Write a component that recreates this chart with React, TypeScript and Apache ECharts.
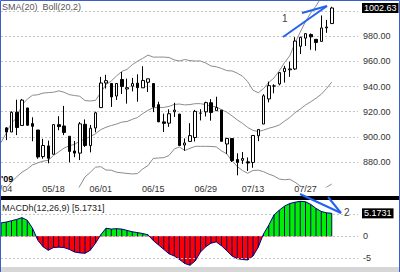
import React, { useEffect, useRef } from 'react';
import * as echarts from 'echarts';

// Trading days shown (S&P 500, 2009)
const dates = [
  '05/04','05/05','05/06','05/07','05/08','05/11','05/12','05/13','05/14','05/15','05/18','05/19','05/20','05/21','05/22','05/26','05/27','05/28','05/29',
  '06/01','06/02','06/03','06/04','06/05','06/08','06/09','06/10','06/11','06/12','06/15','06/16','06/17','06/18','06/19','06/22','06/23','06/24','06/25','06/26','06/29','06/30',
  '07/01','07/02','07/06','07/07','07/08','07/09','07/10','07/13','07/14','07/15','07/16','07/17','07/20','07/21','07/22','07/23','07/24','07/27','07/28','07/29','07/30','07/31',
  '08/03'
];
const rightPadding = ['', '', '', '', ''];
const labeledDates = ['05/04', '05/18', '06/01', '06/15', '06/29', '07/13', '07/27'];
const macdZeroTick = 0;
const macdLowerTick = -5;

// Candles from 05/05 to 08/03
const opens = [907.10,903.80,919.58,909.03,922.99,910.52,905.40,884.24,892.76,886.07,909.67,908.62,900.42,888.68,887.00,909.95,892.96,907.02,923.26,942.87,942.51,932.49,945.67,938.12,940.35,942.73,939.04,943.44,942.45,925.60,911.89,910.86,919.96,918.13,893.46,896.31,899.45,918.84,919.86,927.15,920.82,921.24,894.27,898.60,881.90,881.28,880.03,879.57,900.77,910.15,930.17,940.56,942.07,951.97,953.40,954.07,972.16,978.63,981.48,977.66,976.01,986.80,990.22];
const closes = [903.80,919.53,907.39,929.23,909.24,908.35,883.92,893.07,882.88,909.71,908.13,903.47,888.33,887.00,910.33,893.06,906.83,919.14,942.87,944.74,931.76,942.46,940.09,939.14,942.43,939.15,944.89,946.21,923.72,911.97,910.71,918.37,921.23,893.04,895.10,900.94,920.26,918.90,927.23,919.32,923.33,896.42,898.72,881.03,879.56,882.68,879.13,901.05,905.84,932.68,940.74,940.38,951.13,954.58,954.07,976.29,979.26,982.18,979.62,975.15,986.75,987.48,1002.63];
const lows = [897.34,903.80,901.36,909.03,908.68,896.46,882.52,882.52,878.94,886.07,905.22,901.37,879.61,883.75,881.46,891.87,887.60,903.56,923.26,938.46,923.85,929.32,934.13,926.44,936.15,927.97,939.04,935.66,919.65,911.60,903.78,907.94,915.80,893.04,888.86,896.31,896.27,913.03,916.18,912.86,920.82,896.42,886.36,879.93,869.32,878.45,872.81,875.32,896.50,910.15,927.45,934.65,940.99,943.22,947.75,953.27,965.95,972.29,969.35,968.65,976.01,982.85,990.22];
const highs = [907.70,920.28,929.58,930.17,922.99,915.57,905.40,898.36,896.97,910.00,916.39,924.60,900.42,896.65,911.76,913.84,909.45,920.02,947.77,949.38,942.51,942.47,951.69,946.33,946.92,949.77,956.23,946.30,942.45,928.00,918.44,921.93,927.09,918.13,898.69,910.85,921.42,922.00,927.99,930.01,931.92,921.24,898.72,898.60,886.80,887.86,883.57,901.05,905.84,933.95,943.96,941.89,951.62,956.53,959.83,979.42,979.79,982.49,982.35,977.76,996.68,993.18,1003.61];

// Bollinger (20,2), 05/04 to 08/03
const bollUpper = [895.5,903.0,911.0,915.2,925.5,930.0,933.1,933.5,934.8,935.2,935.5,936.6,935.5,933.6,932.9,932.3,928.9,928.5,929.0,935.2,941.6,944.5,948.4,952.1,953.7,957.4,960.2,962.5,965.1,963.5,963.5,963.5,963.2,961.3,960.4,961.6,960.7,960.4,960.4,958.8,956.4,955.8,954.5,952.7,952.5,950.7,948.3,943.9,937.1,935.1,938.4,943.3,946.9,952.5,959.1,964.6,974.6,983.4,991.9,998.6,1004.2,1011.2,1017.1,1024.8];
const bollMid = [855.4,858.8,864.0,868.1,871.8,874.3,877.6,879.2,880.6,881.3,885.1,888.0,891.0,892.9,893.9,896.5,898.4,900.1,902.4,905.7,907.6,909.0,910.1,911.7,912.2,913.9,915.4,918.5,921.1,923.2,923.3,923.4,924.2,925.8,926.1,925.4,925.7,926.4,926.4,925.6,924.4,923.9,921.6,919.6,916.7,913.5,910.7,907.4,905.1,904.2,905.3,906.8,907.9,909.4,912.5,915.4,919.2,922.1,925.3,927.9,930.7,933.9,938.4,943.6];
const bollLower = [815.3,814.6,817.0,821.0,818.1,818.6,822.2,825.0,826.4,827.3,834.8,839.4,846.6,852.1,854.9,860.7,868.0,871.7,875.8,876.2,873.5,873.4,871.8,871.3,870.8,870.4,870.7,874.4,877.1,882.8,883.1,883.4,885.1,890.3,891.9,889.1,890.8,892.4,892.4,892.4,892.3,892.0,888.8,886.4,880.8,876.3,873.1,870.9,873.2,873.4,872.2,870.3,868.8,866.3,865.8,866.2,863.8,860.8,858.7,857.2,857.2,856.6,859.8,862.4];

// MACD(12,26,9) histogram, 05/04 to 08/03
const macdHist = [3.0,3.2,3.5,3.8,4.2,3.6,1.8,-0.9,-2.4,-3.2,-2.6,-2.5,-2.6,-3.0,-3.6,-3.8,-3.9,-3.2,-1.6,0.3,1.8,1.6,1.7,1.6,1.3,1.0,0.8,0.6,0.3,-1.0,-2.0,-3.0,-4.0,-4.5,-5.3,-6.2,-6.6,-5.6,-3.6,-2.4,-1.6,-1.3,-2.2,-3.3,-4.5,-5.1,-5.3,-5.4,-4.5,-2.5,0.5,2.5,4.8,5.9,6.8,7.4,7.7,7.9,7.8,7.2,6.3,5.6,5.3,5.1731];

const FONT = 'Arial';
const BLUE = '#2462f0';

export default function App() {
  const ref = useRef<HTMLDivElement>(null);
  useEffect(() => {
    if (!ref.current) return;
    const chart = echarts.init(ref.current, null, { renderer: 'svg' });
    const categories = [...dates, ...rightPadding];
    const candleData: any[] = [['-', '-', '-', '-'], ...opens.map((o, i) => [o, closes[i], lows[i], highs[i]])];
    const lastClose = closes[closes.length - 1];
    const lastHist = macdHist[macdHist.length - 1];
    const dashed = { color: '#c4c4c4', type: [2, 2] as any, width: 1 };
    const boxMarkLine = (value: number, txt: string) => ({
      silent: true,
      symbol: ['none', 'none'],
      lineStyle: { color: 'rgba(0,0,0,0)', width: 1, type: 'solid' },
      label: {
        show: true,
        position: 'end',
        distance: 4,
        formatter: txt,
        color: '#ffffff',
        backgroundColor: '#000000',
        opacity: 1,
        fontSize: 9,
        fontFamily: FONT,
        padding: [1, 2, 0, 2],
      },
      data: [{ yAxis: value }],
    });
    const bandLine = (data: number[]) => ({
      type: 'line',
      xAxisIndex: 0,
      yAxisIndex: 0,
      data,
      symbol: 'none',
      lineStyle: { color: '#8c8c8c', width: 1 },
      z: 1,
    });

    chart.setOption({
      animation: false,
      textStyle: { fontFamily: FONT },
      grid: [
        { left: 1, right: 42, top: 0, height: 187, containLabel: false, outerBoundsMode: 'none' },
        { left: 1, right: 42, top: 200, height: 67, containLabel: false, outerBoundsMode: 'none' },
      ],
      xAxis: [
        {
          type: 'category',
          gridIndex: 0,
          data: categories,
          boundaryGap: false,
          axisLine: { show: false },
          axisTick: { show: false },
          splitLine: { show: false },
          axisLabel: {
            interval: (_i: number, v: string) => labeledDates.includes(v),
            alignMinLabel: 'center',
            margin: 2,
            verticalAlign: 'middle',
            fontSize: 9,
            color: '#333',
          },
        },
        {
          type: 'category',
          gridIndex: 1,
          data: categories,
          boundaryGap: false,
          show: false,
        },
      ],
      yAxis: [
        {
          type: 'value',
          gridIndex: 0,
          position: 'right',
          min: 860,
          max: 1009,
          interval: 20,
          axisLine: { show: false },
          axisTick: { show: false },
          splitLine: { show: true, showMinLine: false, showMaxLine: false, lineStyle: dashed },
          axisLabel: {
            margin: 5,
            fontSize: 9,
            color: '#333',
            showMinLabel: false,
            showMaxLabel: false,
            formatter: (v: number) => (v >= 880 && v < 1000 && v % 20 === 0 ? v.toFixed(2) : ''),
          },
        },
        {
          type: 'value',
          gridIndex: 1,
          position: 'right',
          min: -7,
          max: 8.2,
          minInterval: 5,
          maxInterval: 5,
          splitNumber: 3,
          axisLine: { show: false },
          axisTick: { show: false },
          splitLine: { show: true, showMinLine: false, showMaxLine: false, lineStyle: dashed },
          axisLabel: {
            margin: 5,
            fontSize: 9,
            color: '#333',
            formatter: (v: number) => (Math.abs(v - macdZeroTick) < 1e-6 ? String(macdZeroTick) : ''),
          },
        },
      ],
      visualMap: [
        {
          type: 'piecewise',
          show: false,
          seriesIndex: 5,
          dimension: 1,
          pieces: [
            { gte: -100, lt: 0, color: '#ff0000' },
            { gte: 0, lte: 100, color: '#00ee00' },
          ],
          outOfRange: { color: '#00ee00' },
        },
      ],
      series: [
        bandLine(bollUpper),
        bandLine(bollMid),
        bandLine(bollLower),
        {
          type: 'candlestick',
          xAxisIndex: 0,
          yAxisIndex: 0,
          data: candleData,
          barWidth: 3,
          itemStyle: {
            color: '#ffffff',
            color0: '#000000',
            borderColor: '#000000',
            borderColor0: '#000000',
            borderWidth: 1,
          },
          z: 3,
          markLine: boxMarkLine(lastClose, lastClose.toFixed(2)),
        },
        {
          type: 'bar',
          xAxisIndex: 1,
          yAxisIndex: 1,
          data: macdHist,
          barWidth: 1,
          itemStyle: { color: '#000080' },
          z: 4,
          markLine: {
            silent: true,
            symbol: ['none', 'none'],
            lineStyle: { ...dashed },
            label: {
              show: true,
              position: 'end',
              distance: 5,
              formatter: String(macdLowerTick),
              color: '#333',
              fontSize: 9,
              fontFamily: FONT,
            },
            data: [{ yAxis: macdLowerTick }],
          },
        },
        {
          type: 'line',
          xAxisIndex: 1,
          yAxisIndex: 1,
          data: macdHist,
          symbol: 'none',
          lineStyle: { color: '#000080', width: 1 },
          areaStyle: { opacity: 1 },
          z: 3,
          markLine: boxMarkLine(lastHist, String(lastHist)),
        },
      ],
      graphic: [
        { type: 'text', left: 2, top: 2, z: 50, style: { text: 'SMA(20)  Boll(20,2)', fontSize: 9, fontFamily: FONT, fill: '#555' } },
        { type: 'text', left: 1, top: 174, z: 50, style: { text: "'09", fontSize: 9, fontWeight: 'bold', fontFamily: FONT, fill: '#000' } },
        { type: 'rect', z: 50, shape: { x: 0, y: 196, width: 400, height: 4 }, style: { fill: '#000' } },
        { type: 'text', left: 2, top: 203, z: 50, style: { text: 'MACDh(12,26,9) [5.1731]', fontSize: 9, fontFamily: FONT, fill: '#222' } },
        { type: 'rect', z: 50, shape: { x: 1, y: 267, width: 398, height: 5 }, style: { fill: '#d6d6d6' } },
        { type: 'line', z: 60, shape: { x1: 283, y1: 37, x2: 327, y2: 6 }, style: { stroke: BLUE, lineWidth: 2 } },
        { type: 'line', z: 60, shape: { x1: 302, y1: 13, x2: 327, y2: 6 }, style: { stroke: BLUE, lineWidth: 2 } },
        { type: 'text', left: 282, top: 13, z: 60, style: { text: '1', fontSize: 10, fontFamily: FONT, fill: '#444' } },
        { type: 'line', z: 60, shape: { x1: 300, y1: 194, x2: 341, y2: 213 }, style: { stroke: BLUE, lineWidth: 2 } },
        { type: 'line', z: 60, shape: { x1: 328, y1: 197, x2: 341, y2: 213 }, style: { stroke: BLUE, lineWidth: 2 } },
        { type: 'text', left: 344, top: 207, z: 60, style: { text: '2', fontSize: 10, fontFamily: FONT, fill: '#444' } },
        { type: 'polyline', z: 70, shape: { points: [[0.5, 272], [0.5, 0.5], [399.5, 0.5], [399.5, 272]] }, style: { fill: 'none', stroke: '#3a5fcd', lineWidth: 1 } },
      ],
    });
    return () => chart.dispose();
  }, []);
  return (
    <div
      ref={ref}
      style={{ position: 'fixed', left: 0, top: 0, width: 400, height: 272, background: '#fff' }}
    />
  );
}
